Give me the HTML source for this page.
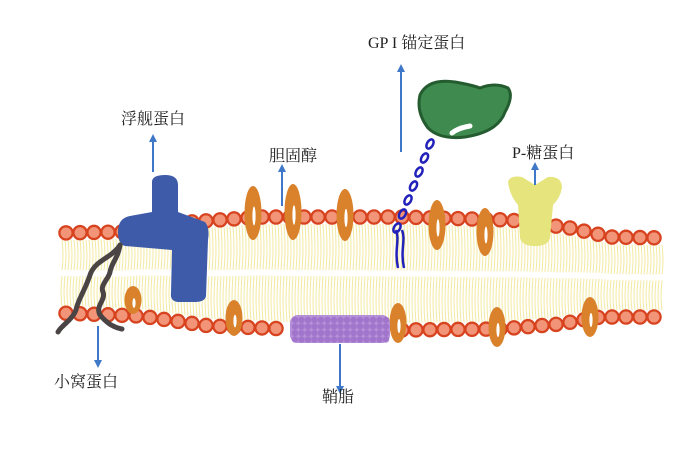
<!DOCTYPE html>
<html><head><meta charset="utf-8"><style>
html,body{margin:0;padding:0;background:#fff;width:686px;height:449px;overflow:hidden}
text{font-family:"Liberation Serif","Noto Serif CJK SC",serif;font-size:16px;fill:#222}
</style></head><body>
<svg id="s" width="686" height="449" viewBox="0 0 686 449" xmlns="http://www.w3.org/2000/svg">
<defs>
<marker id="ah" markerWidth="8" markerHeight="8" refX="4" refY="4" orient="auto" markerUnits="userSpaceOnUse"><path d="M0,0 L8,4 L0,8 Z" fill="#3f78c8"/></marker>
</defs>
<g id="tails" stroke="#f3e9a0" stroke-width="1" fill="none"></g>
<g id="beads"></g>
<g id="chol" fill="#d9822b"></g>
<!-- blue flotillin -->
<path d="M152,182 Q152,175 165,175 Q178,175 178,185 L178,212 L205,222 Q210,228 208,240 L206,296 Q205,302 195,302 L178,302 Q170,301 171,293 L172,250 L125,246 Q118,244 118,232 Q118,218 130,216 L152,212 Z" fill="#3d5ba9"/>
<!-- caveolin chains -->
<path d="M120,245 C112,258 95,260 90,275 C85,290 78,300 76,310 C72,320 62,325 58,332" stroke="#4a4444" stroke-width="5" fill="none" stroke-dasharray="3 1" stroke-linecap="round"/>
<path d="M120,245 C118,258 112,262 110,272 C108,280 100,285 103,292 C106,300 95,306 100,315 C106,322 112,327 122,329" stroke="#4a4444" stroke-width="5" fill="none" stroke-dasharray="3 1" stroke-linecap="round"/>
<!-- sphingolipid -->
<rect x="290" y="315" width="100" height="28" rx="8" fill="#b58fd8"/>
<g id="sph" fill="#9d6fc9" opacity="0.8"></g>
<!-- GPI chain -->
<path d="M398,268 C394,250 400,240 396,230 M404,268 C400,250 406,240 402,230" stroke="#2222bb" stroke-width="2.5" fill="none"/>
<g id="gpi" stroke="#2222bb" stroke-width="2.5" fill="none"></g>
<!-- green -->
<path d="M420,95 Q428,78 455,82 Q472,85 480,88 Q495,82 508,88 Q514,96 505,112 Q498,132 465,137 Q440,140 428,128 Q416,112 420,95 Z" fill="#3f8a4f" stroke="#245c30" stroke-width="3"/>
<path d="M452,133 Q458,128 470,126" stroke="#fff" stroke-width="5" stroke-linecap="round" fill="none"/>
<!-- yellow -->
<path d="M508,182 Q510,175 522,177 L535,185 L548,177 Q562,176 562,188 Q560,198 553,205 L550,238 Q548,246 535,246 Q522,246 520,238 L518,205 Q510,196 508,182 Z" fill="#e6e47c"/>
<!-- arrows -->
<g stroke="#3f78c8" stroke-width="2" fill="none">
<line x1="153" y1="172" x2="153" y2="138" marker-end="url(#ah)"/>
<line x1="282" y1="206" x2="282" y2="168" marker-end="url(#ah)"/>
<line x1="401" y1="152" x2="401" y2="68" marker-end="url(#ah)"/>
<line x1="535" y1="185" x2="535" y2="166" marker-end="url(#ah)"/>
<line x1="98" y1="326" x2="98" y2="364" marker-end="url(#ah)"/>
<line x1="340" y1="344" x2="340" y2="390" marker-end="url(#ah)"/>
</g>
<text x="368" y="48">GP I 锚定蛋白</text>
<text x="121" y="124">浮舰蛋白</text>
<text x="269" y="161">胆固醇</text>
<text x="512" y="158">P-糖蛋白</text>
<text x="54" y="387">小窝蛋白</text>
<text x="322" y="402">鞘脂</text>
</svg>
<script>
(function(){
var NS="http://www.w3.org/2000/svg";
function el(p,t,a){var e=document.createElementNS(NS,t);for(var k in a)e.setAttribute(k,a[k]);document.getElementById(p).appendChild(e);return e;}
function interp(pts,x){for(var i=0;i<pts.length-1;i++){if(x>=pts[i][0]&&x<=pts[i+1][0]){var t=(x-pts[i][0])/(pts[i+1][0]-pts[i][0]);return pts[i][1]+t*(pts[i+1][1]-pts[i][1]);}}return pts[pts.length-1][1];}
var tp=[[60,233],[120,232],[190,222],[260,217],[400,217],[510,220],[570,228],[610,237],[665,238]];
var bt=[[60,313],[140,316],[210,326],[290,329],[400,330],[500,329],[560,324],[600,317],[665,317]];
for(var x=62;x<=664;x+=3){var a=interp(tp,x)+7,b=interp(bt,x)-7,m=(a+b)/2;
 el("tails","path",{d:"M"+x+","+a+" q2,"+((m-a)/2)+" 0,"+(m-a-3)+" M"+x+","+(m+3)+" q-2,"+((b-m)/2)+" 0,"+(b-m-3)});}
function row(pts,skip){for(var x=66;x<=662;x+=14){var sk=false;for(var i=0;i<skip.length;i++)if(x>skip[i][0]&&x<skip[i][1])sk=true;if(sk)continue;var y=interp(pts,x);
 el("beads","circle",{cx:x,cy:y,r:6.6,fill:"#f29478",stroke:"#d8431f","stroke-width":2.3});}}
row(tp,[[125,190],[515,556]]);
row(bt,[[285,392]]);
var ch=[[253,213,27],[293,212,28],[345,215,26],[437,225,25],[485,232,24],[133,300,14],[234,318,18],[398,323,20],[497,327,20],[590,317,20]];
ch.forEach(function(c){el("chol","ellipse",{cx:c[0],cy:c[1],rx:8.5,ry:c[2]});el("chol","ellipse",{cx:c[0]+1,cy:c[1]+3,rx:1.6,ry:c[2]*0.35,fill:"#fff"});});
for(var i=0;i<60;i++){el("sph","circle",{cx:295+(i%15)*6.5,cy:320+Math.floor(i/15)*6.5,r:3.2});}
for(var j=0;j<7;j++){var t=j/6;el("gpi","ellipse",{cx:397+t*33,cy:228-t*84,rx:3,ry:5,transform:"rotate(30 "+(397+t*33)+" "+(228-t*84)+")"});}
})();
</script>
</body></html>
